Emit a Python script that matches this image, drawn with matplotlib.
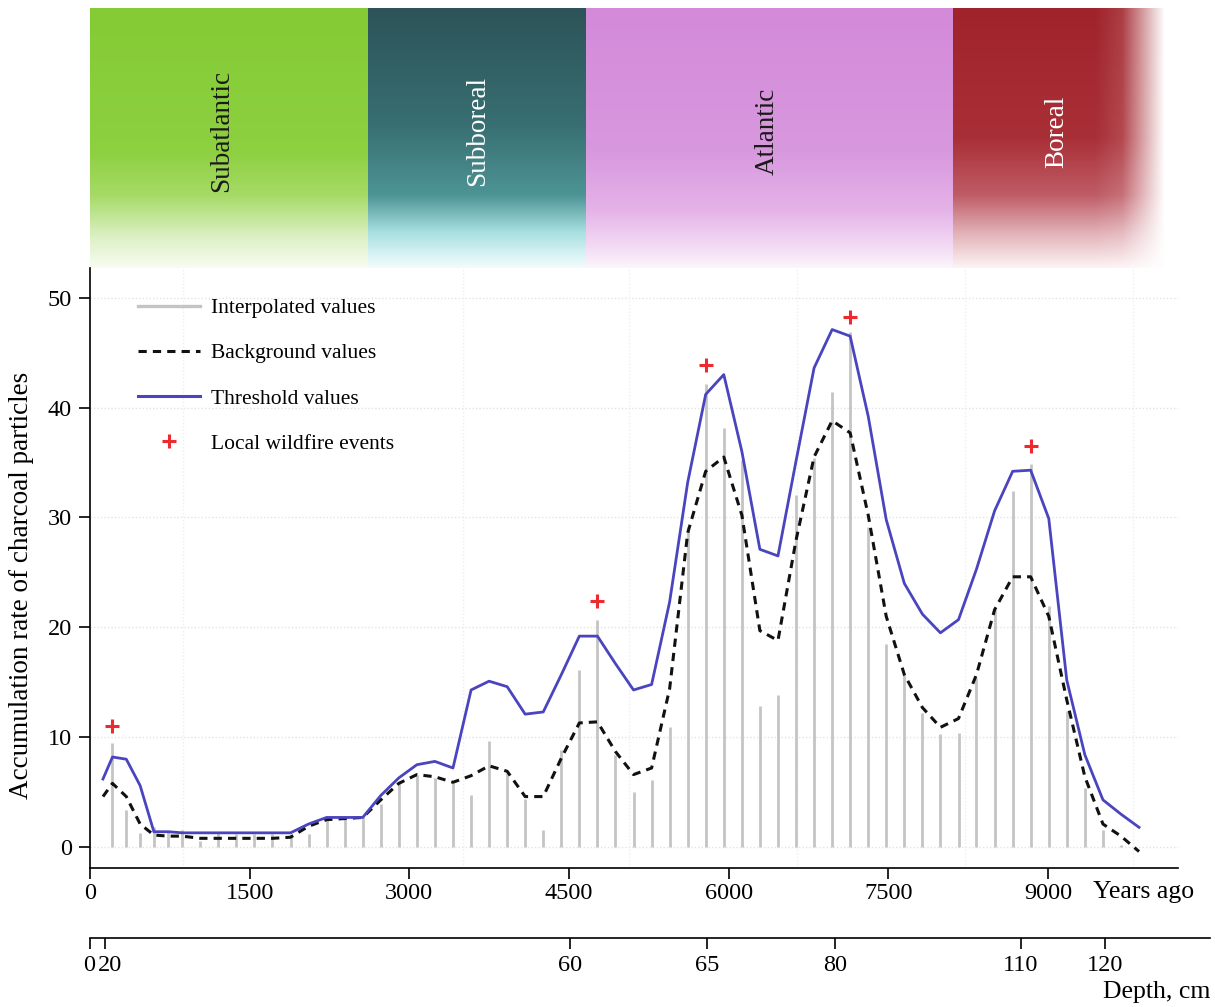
import numpy as np
import matplotlib
matplotlib.use("Agg")
import matplotlib.pyplot as plt
import matplotlib.transforms as mtrans
from matplotlib.colors import to_rgb
from matplotlib.lines import Line2D

plt.rcParams["font.family"] = ["Liberation Serif", "DejaVu Serif"]

# ── Data ──────────────────────────────────────────────────────────────────────
years = [122, 211, 341, 471, 600, 736, 866, 1036, 1205, 1375, 1544, 1714,
         1884, 2053, 2223, 2392, 2562, 2732, 2901, 3071, 3240, 3410, 3580,
         3749, 3919, 4088, 4258, 4428, 4597, 4767, 4936, 5106, 5276, 5445,
         5615, 5784, 5954, 6124, 6293, 6463, 6632, 6802, 6972, 7141, 7311,
         7480, 7650, 7820, 7989, 8159, 8328, 8498, 8668, 8837, 9007, 9176,
         9346, 9516, 9685, 9855]

interpolated = [0, 9.5, 3.4, 1.3, 1.8, 1.4, 1.6, 0.6, 1.3, 1.2, 1.2, 1.2,
                1.2, 1.2, 2.7, 2.7, 2.7, 3.9, 5.9, 6.6, 6.3, 5.8, 4.7,
                9.7, 6.7, 4.4, 1.6, 8.8, 16.1, 20.7, 8.4, 5.0, 6.1, 10.9,
                29.1, 42.1, 38.1, 35.2, 12.8, 13.8, 32.0, 35.4, 41.4, 46.9, 29.1,
                18.5, 15.7, 12.2, 10.3, 10.4, 15.4, 21.7, 32.4, 34.9, 21.9, 12.4,
                5.4, 1.6, 0.2, 0]

background = [4.6, 5.8, 4.6, 2.1, 1.1, 1.0, 1.0, 0.8, 0.8, 0.8, 0.8, 0.8,
              0.9, 1.9, 2.5, 2.6, 2.7, 4.3, 5.8, 6.6, 6.4, 5.9, 6.5,
              7.4, 6.9, 4.6, 4.6, 8.1, 11.3, 11.4, 8.7, 6.6, 7.2, 14.4,
              28.6, 34.2, 35.5, 30.2, 19.7, 18.8, 27.9, 35.5, 38.8, 37.7, 30.2,
              21.0, 15.7, 12.7, 10.9, 11.7, 15.7, 21.6, 24.6, 24.6, 21.0, 13.4,
              6.4, 2.1, 1.0, -0.4]

threshold = [6.2, 8.2, 8.0, 5.6, 1.4, 1.4, 1.3, 1.3, 1.3, 1.3, 1.3, 1.3,
             1.3, 2.1, 2.7, 2.7, 2.7, 4.7, 6.3, 7.5, 7.8, 7.2, 14.3,
             15.1, 14.6, 12.1, 12.3, 15.7, 19.2, 19.2, 16.7, 14.3, 14.8, 22.3,
             33.2, 41.2, 43.0, 36.0, 27.1, 26.5, 35.1, 43.6, 47.1, 46.5, 39.2,
             29.8, 24.0, 21.2, 19.5, 20.7, 25.3, 30.6, 34.2, 34.3, 29.9, 15.2,
             8.4, 4.3, 3.0, 1.8]

event_years = [211, 4767, 5784, 7141, 8837]
event_values = [11.0, 22.4, 43.9, 48.2, 36.5]

periods = ["Subatlantic", "Subboreal", "Atlantic", "Boreal"]
period_start = [0, 2612, 4660, 8107]
period_end = [2612, 4660, 8107, 10146]

year_ticks = [0, 1500, 3000, 4500, 6000, 7500, 9000]
depth_cm = [0, 20, 60, 65, 80, 110, 120]
depth_age = [0, 141, 4509, 5796, 6999, 8746, 9535]

# ── Layout (pixels of a 1215 x 1007 canvas) ───────────────────────────────────
W, H = 1215, 1007
fig = plt.figure(figsize=(W / 100, H / 100), dpi=100)

def px_axes(x0, y_top, x1, y_bot):
    return fig.add_axes([x0 / W, (H - y_bot) / H, (x1 - x0) / W, (y_bot - y_top) / H])

FS_TICK = 17.5

# ── Period band on top ────────────────────────────────────────────────────────
band_ax = px_axes(90, 8, 1170, 268)
band_right = 10146
nx, ny = 1080, 260
xs = np.linspace(0, band_right, nx)
ts = np.linspace(0, 1, ny)
img = np.ones((ny, nx, 3))

band_stops = {
    "Subatlantic": [(0, "#84cb35"), (0.55, "#8dd040"), (0.72, "#a6da66"),
                    (0.88, "#dcf0c4"), (1.0, "#f8fcf2")],
    "Subboreal":   [(0, "#2c5358"), (0.45, "#386f72"), (0.72, "#4e9495"),
                    (0.86, "#a6dedf"), (0.95, "#d8f3f4"), (1.0, "#f3fbfb")],
    "Atlantic":    [(0, "#d38ad9"), (0.55, "#d898de"), (0.78, "#e5b3e8"),
                    (0.92, "#f3dbf4"), (1.0, "#fcf5fc")],
    "Boreal":      [(0, "#a0232b"), (0.5, "#a92f37"), (0.72, "#bf5c66"),
                    (0.87, "#e2b3b9"), (1.0, "#fdf3f4")],
}
for name, s, e in zip(periods, period_start, period_end):
    cols = (xs >= s) & (xs <= e)
    tt = [p for p, _ in band_stops[name]]
    for ch in range(3):
        prof = np.interp(ts, tt, [to_rgb(c)[ch] for _, c in band_stops[name]])
        img[:, cols, ch] = prof[:, None]

# soft right edge of the Boreal block
hfade = np.interp(xs, [9450, 9700, 10100], [1.0, 0.88, 0.0])
img = 1 - (1 - img) * hfade[None, :, None]

band_ax.imshow(img, extent=[0, band_right, 0, 1], aspect="auto", interpolation="bilinear")
band_ax.set_xlim(0, band_right)
band_ax.set_ylim(0, 1)
band_ax.axis("off")

label_x = [1240, 3645, 6360, 9084]
label_col = ["#1a1a1a", "white", "#1a1a1a", "white"]
for name, lx, lc in zip(periods, label_x, label_col):
    band_ax.text(lx, 0.525, name, rotation=90, ha="center", va="center",
                 fontsize=19.5, color=lc)

# ── Main chart ────────────────────────────────────────────────────────────────
ax = px_axes(90, 268, 1178, 868)
ax.set_xlim(0, 10221)
ax.set_ylim(-1.9, 52.7)

for yv in range(0, 51, 10):
    ax.axhline(yv, color="#e3e3e3", lw=1.0, ls=(0, (1, 1.5)), zorder=0)
for xv in [874, 3500, 5063, 6642, 8220, 9798]:
    ax.axvline(xv, color="#eeeeee", lw=1.0, ls=(0, (1, 1.5)), zorder=0)

ax.vlines(years, 0, interpolated, color="#c4c4c4", lw=2.0, zorder=1)
ax.plot(years, background, color="#111111", lw=2.2, dashes=(2.7, 2.0), zorder=2)
ax.plot(years, threshold, color="#4a44bf", lw=2.0, zorder=3)
ax.plot(event_years, event_values, ls="none", marker="+", ms=10, mew=2.2,
        color="#ee2a30", zorder=4)

ax.set_xticks(year_ticks)
ax.set_yticks(range(0, 51, 10))
ax.tick_params(direction="out", length=8, width=1.2, labelsize=FS_TICK)
ax.tick_params(axis="x", pad=2.5)
ax.tick_params(axis="y", pad=5)
for side in ["top", "right"]:
    ax.spines[side].set_visible(False)
for side in ["left", "bottom"]:
    ax.spines[side].set_linewidth(1.2)

fig.text(22 / W, (H - 585) / H, "Accumulation rate of charcoal particles",
         rotation=90, ha="center", va="center", fontsize=19.5)
fig.text(1093 / W, (H - 892) / H, "Years ago", ha="left", va="center", fontsize=18.5)

handles = [
    Line2D([], [], color="#c4c4c4", lw=2.4),
    Line2D([], [], color="#111111", lw=2.2, dashes=(2.7, 2.0)),
    Line2D([], [], color="#4a44bf", lw=2.2),
    Line2D([], [], ls="none", marker="+", ms=10, mew=2.2, color="#ee2a30"),
]
labels = ["Interpolated values", "Background values", "Threshold values",
          "Local wildfire events"]
ax.legend(handles, labels, loc="upper left", bbox_to_anchor=(0.044, 0.950),
          frameon=False, fontsize=15.5, handlelength=2.9, handletextpad=0.5,
          labelspacing=1.17, borderpad=0, borderaxespad=0)

# ── Depth axis ────────────────────────────────────────────────────────────────
dax = px_axes(90, 937, 1210, 938)
dax.set_xlim(0, 10521)
dax.set_yticks([])
for side in ["top", "right", "left"]:
    dax.spines[side].set_visible(False)
dax.spines["bottom"].set_linewidth(1.2)
dax.patch.set_alpha(0)
dax.set_xticks(depth_age)
dax.set_xticklabels([str(d) for d in depth_cm])
dax.tick_params(direction="out", length=8, width=1.2, labelsize=FS_TICK, pad=4.5)
# the first two labels sit almost on top of each other; nudge them apart
tl = dax.get_xticklabels()
tl[0].set_transform(tl[0].get_transform() + mtrans.ScaledTranslation(-1 / 100, 0, fig.dpi_scale_trans))
tl[1].set_transform(tl[1].get_transform() + mtrans.ScaledTranslation(5 / 100, 0, fig.dpi_scale_trans))
fig.text(1210 / W, (H - 992) / H, "Depth, cm", ha="right", va="center", fontsize=18.5)

fig.savefig("out.png", dpi=100)
